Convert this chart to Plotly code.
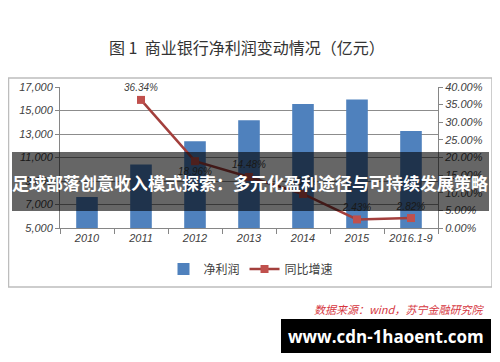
import plotly.graph_objects as go

categories = ["2010", "2011", "2012", "2013", "2014", "2015", "2016.1-9"]
net_profit = [7640, 10410, 12386, 14180, 15548, 15926, 13250]
yoy_growth = [None, 0.3634, 0.1896, 0.1448, 0.0965, 0.0243, 0.0282]
yoy_labels = ["", "36.34%", "18.96%", "14.48%", "9.65%", "2.43%", "2.82%"]
label_pos = ["top center", "top center", "bottom center", "top center", "top center", "top center", "top center"]

# page body has an 8px margin; figure sized to fit inside the 500x362 window
OFF = 8
W, H = 500 - OFF, 362 - OFF
def px(x): return (x - OFF) / W
def py(y): return 1 - (y - OFF) / H

fig = go.Figure()
fig.add_trace(go.Bar(
    x=categories, y=net_profit, name="净利润",
    marker=dict(color="#4F81BD", line=dict(width=0)),
    yaxis="y",
))
fig.add_trace(go.Scatter(
    x=categories, y=yoy_growth, name="同比增速", yaxis="y2",
    mode="lines+markers+text",
    line=dict(color="#A33F3C", width=2.5),
    marker=dict(symbol="square", size=8, color="#C0504D"),
    text=yoy_labels, textposition=label_pos,
    textfont=dict(family="Liberation Sans", size=10, color="#404040", style="italic"),
    cliponaxis=False,
))

axis_font = dict(family="Liberation Sans", size=11, color="#404040", style="italic")
fig.update_layout(
    template="none",
    width=W, height=H, autosize=False,
    margin=dict(l=0, r=0, t=0, b=0, pad=0, autoexpand=False),
    paper_bgcolor="white", plot_bgcolor="white",
    bargap=0.6,
    showlegend=True,
    legend=dict(orientation="h", x=px(251), xanchor="center", y=py(269), yanchor="middle",
                font=dict(family="Noto Sans CJK SC", size=12, color="#404040"),
                itemwidth=30, traceorder="normal", bgcolor="rgba(0,0,0,0)"),
    xaxis=dict(type="category", domain=[px(60), px(438)], showgrid=False, showline=True,
               linecolor="#868686", linewidth=1, ticks="outside", tickson="boundaries",
               ticklen=5, tickcolor="#868686", tickfont=axis_font, anchor="y", automargin=False),
    yaxis=dict(domain=[py(228), py(87)], range=[5000, 17000], tick0=1000, dtick=2000, tickformat=",",
               showgrid=True, gridcolor="#8C8C8C", gridwidth=1, showline=True, linecolor="#868686",
               ticks="outside", ticklen=4, tickcolor="#868686", tickfont=axis_font,
               zeroline=False, anchor="x", automargin=False),
    yaxis2=dict(domain=[py(228), py(87)], range=[0, 0.40], tick0=0, dtick=0.05, tickformat=".2%",
                overlaying="y", side="right", showgrid=False, showline=True, linecolor="#868686",
                ticks="outside", ticklen=4, tickcolor="#868686", tickfont=axis_font,
                zeroline=False, anchor="x", automargin=False),
)

shapes = [
    dict(type="rect", xref="paper", yref="paper", x0=px(8.5), x1=px(492), y0=py(287), y1=py(78),
         line=dict(color="#BDBDBD", width=1.5), fillcolor="rgba(0,0,0,0)", layer="below"),
    dict(type="rect", xref="paper", yref="paper", x0=px(12), x1=px(489), y0=py(211), y1=py(152),
         line=dict(width=0), fillcolor="rgba(0,0,0,0.6)", layer="above"),
    dict(type="rect", xref="paper", yref="paper", x0=px(281), x1=px(491), y0=py(353), y1=py(319),
         line=dict(width=0), fillcolor="black", layer="above"),
]
fig.update_layout(shapes=shapes)

annotations = [
    dict(text="图 1  商业银行净利润变动情况（亿元）", x=px(247), y=py(47), xref="paper", yref="paper",
         showarrow=False, xanchor="center", yanchor="middle",
         font=dict(family="Noto Sans CJK SC", size=16, color="#333333")),
    dict(text="足球部落创意收入模式探索：多元化盈利途径与可持续发展策略", x=px(250), y=py(183),
         xref="paper", yref="paper", showarrow=False, xanchor="center", yanchor="middle",
         font=dict(family="Noto Sans CJK SC", size=17, color="white", weight="bold")),
    dict(text="数据来源：wind，苏宁金融研究院", x=px(486), y=py(309), xref="paper", yref="paper",
         showarrow=False, xanchor="right", yanchor="middle",
         font=dict(family="Noto Sans CJK SC", size=11, color="#D6373F", style="italic")),
    dict(text="www.cdn-1haoent.com", x=px(386), y=py(336), xref="paper", yref="paper",
         showarrow=False, xanchor="center", yanchor="middle",
         font=dict(family="Open Sans", size=17, color="white", weight="bold")),
]
fig.update_layout(annotations=annotations)

fig.write_html("out.html")
